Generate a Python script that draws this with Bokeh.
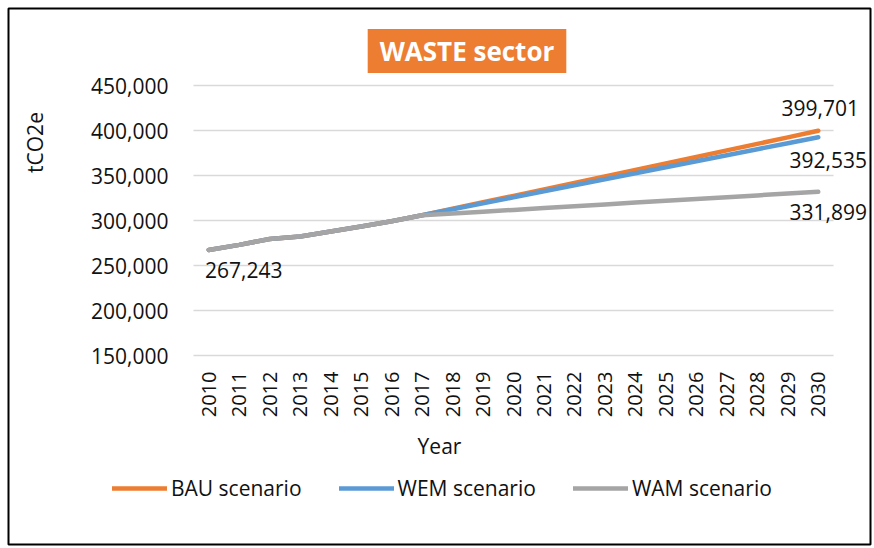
import math
from bokeh.plotting import figure
from bokeh.models import Label, Legend, LegendItem, FixedTicker, NumeralTickFormatter, Range1d, Spacer
from bokeh.layouts import row, column
from bokeh.embed import file_html
from bokeh.resources import INLINE

years = [2010, 2011, 2012, 2013, 2014, 2015, 2016, 2017, 2018, 2019, 2020,
         2021, 2022, 2023, 2024, 2025, 2026, 2027, 2028, 2029, 2030]
bau = [267243, 272900, 279500, 282200, 287800, 293300, 299200, 305800, 313000, 320200, 327400,
       334600, 341800, 349000, 356200, 363400, 370600, 377900, 385100, 392400, 399701]
wem = [267243, 272900, 279500, 282200, 287800, 293300, 299200, 305800, 312500, 319100, 325800,
       332500, 339200, 345800, 352500, 359200, 365800, 372500, 379200, 385900, 392535]
wam = [267243, 272900, 279500, 282200, 287800, 293300, 299200, 305800, 307800, 309800, 311800,
       313800, 315800, 317900, 319900, 321900, 323900, 325900, 327900, 329900, 331899]
y_ticks = [150000, 200000, 250000, 300000, 350000, 400000, 450000]
series_names = ["BAU scenario", "WEM scenario", "WAM scenario"]
colors = ["#ED7D31", "#5B9BD5", "#A5A5A5"]

FONT = "Open Sans"
TXT = "#111111"

# ---- layout (page pixels) ----
FRAME_L, FRAME_T, FRAME_W, FRAME_H = 8, 8, 862, 536   # frame == bordered chart box
PLOT_L, PLOT_R, PLOT_T, PLOT_B = 193, 833, 85, 355    # Excel plot area
x_lo, x_hi = years[0] - 0.5, years[-1] + 0.5
y_lo, y_hi = y_ticks[0], y_ticks[-1]
ux = (x_hi - x_lo) / (PLOT_R - PLOT_L)
uy = (y_hi - y_lo) / (PLOT_B - PLOT_T)
xr0 = x_lo - (PLOT_L - FRAME_L) * ux
xr1 = xr0 + FRAME_W * ux
yr1 = y_hi + (PLOT_T - FRAME_T) * uy
yr0 = yr1 - FRAME_H * uy

def sx(px):
    return px - FRAME_L

def sy(py):
    return FRAME_T + FRAME_H - py

p = figure(width=FRAME_W + 4, height=FRAME_H + 4, output_backend="svg", toolbar_location=None,
           x_range=Range1d(xr0, xr1), y_range=Range1d(yr0, yr1), min_border=2)
p.outline_line_color = "#000000"
p.outline_line_width = 2
p.background_fill_color = "white"
p.border_fill_color = "white"
p.xgrid.visible = False
p.ygrid.visible = False

# axes, fixed at the plot-area edges
p.yaxis.fixed_location = x_lo
p.yaxis.ticker = FixedTicker(ticks=y_ticks)
p.yaxis.formatter = NumeralTickFormatter(format="0,0")
p.yaxis.axis_line_color = None
p.yaxis.major_tick_line_color = None
p.yaxis.minor_tick_line_color = None
p.yaxis.major_label_standoff = 19
p.yaxis.major_label_text_font = FONT
p.yaxis.major_label_text_font_size = "21px"
p.yaxis.major_label_text_color = TXT

p.xaxis.fixed_location = y_lo
p.xaxis.ticker = FixedTicker(ticks=years)
p.xaxis.major_label_orientation = math.pi / 2
p.xaxis.axis_line_color = None
p.xaxis.major_tick_line_color = None
p.xaxis.minor_tick_line_color = None
p.xaxis.major_label_standoff = 10
p.xaxis.major_label_text_font = FONT
p.xaxis.major_label_text_font_size = "20px"
p.xaxis.major_label_text_color = TXT
p.xaxis.axis_label = "Year"
p.xaxis.axis_label_text_font = FONT
p.xaxis.axis_label_text_font_size = "21px"
p.xaxis.axis_label_text_font_style = "normal"
p.xaxis.axis_label_text_color = TXT
p.xaxis.axis_label_standoff = 12

# gridlines across the plot area
p.segment(x0=[x_lo] * len(y_ticks), x1=[x_hi] * len(y_ticks), y0=y_ticks, y1=y_ticks,
          line_color="#D9D9D9", line_width=1.5, level="underlay")

# lines
renderers = []
for vals, c in zip([bau, wem, wam], colors):
    r = p.line(years, vals, line_color=c, line_width=4.5, line_cap="round", line_join="round")
    renderers.append(r)

legend = Legend(items=[LegendItem(label=n, renderers=[r]) for n, r in zip(series_names, renderers)],
                orientation="horizontal", location=(sx(112), sy(502)), padding=0, margin=0,
                spacing=37, glyph_width=55, glyph_height=24, label_height=24, label_standoff=4,
                border_line_color=None, background_fill_alpha=0,
                label_text_font=FONT, label_text_font_size="21px", label_text_color=TXT)
p.add_layout(legend)

# title box
p.add_layout(Label(x=sx(466.5), y=sy(50.5), x_units="screen", y_units="screen", text="WASTE sector",
                   text_align="center", text_baseline="middle", text_font=FONT,
                   text_font_size="26px", text_font_style="bold", text_color="white",
                   background_fill_color="#ED7D31", padding=(12, 12, 4, 4)))

# y axis title
p.add_layout(Label(x=sx(34), y=sy(142), x_units="screen", y_units="screen", text="tCO2e",
                   angle=math.pi / 2, text_align="center", text_baseline="middle", text_font=FONT,
                   text_font_size="21px", text_color=TXT))

# data labels
def lab(x, y, dx, dy):
    p.add_layout(Label(x=x, y=y, x_offset=dx, y_offset=dy, text=f"{y:,}",
                       text_align="center", text_baseline="middle", text_font=FONT,
                       text_font_size="21px", text_color=TXT))

lab(years[0], bau[0], 35, -20)
lab(years[-1], bau[-1], 2, 23)
lab(years[-1], wem[-1], 10, -23)
lab(years[-1], wam[-1], 10, -20)

layout = row(Spacer(width=6), column(Spacer(height=6), p))
open("out.html", "w").write(file_html(layout, INLINE))
